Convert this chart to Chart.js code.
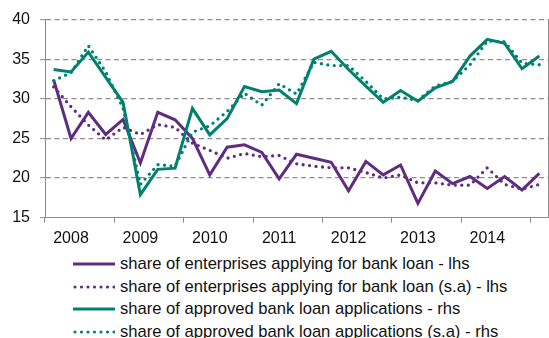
<!DOCTYPE html>
<html>
<head>
<meta charset="utf-8">
<script src="https://cdn.jsdelivr.net/npm/chart.js@4.4.1/dist/chart.umd.min.js"></script>
<style>
html, body { margin: 0; padding: 0; background: #fff; }
#wrap { position: relative; width: 549px; height: 338px; overflow: hidden; font-family: "Liberation Sans", Arial, sans-serif; }
#box { position: absolute; left: 0; top: 0; width: 549px; height: 250px; }
#legend { position: absolute; left: 73px; top: 253px; }
.row { height: 22.6px; display: flex; align-items: center; font-size: 16.6px; color: #111; white-space: nowrap; }
.row svg { width: 42px; height: 6px; margin-right: 5px; }
</style>
</head>
<body>
<div id="wrap">
  <div id="box"><canvas id="chart"></canvas></div>
  <div id="legend"></div>
</div>
<script>
var quarters = ['2008Q1','2008Q2','2008Q3','2008Q4','2009Q1','2009Q2','2009Q3','2009Q4',
  '2010Q1','2010Q2','2010Q3','2010Q4','2011Q1','2011Q2','2011Q3','2011Q4',
  '2012Q1','2012Q2','2012Q3','2012Q4','2013Q1','2013Q2','2013Q3','2013Q4',
  '2014Q1','2014Q2','2014Q3','2014Q4','2015Q1'];
var yearLabels = ['2008', '2009', '2010', '2011', '2012', '2013', '2014'];
var yTicks = [15, 20, 25, 30, 35, 40];

var applying = [32.4, 25.0, 28.3, 25.5, 27.4, 21.9, 28.3, 27.35, 25.0, 20.4, 23.9, 24.2, 23.25, 19.9, 23.0,
  22.5, 22.0, 18.4, 22.1, 20.4, 21.65, 16.8, 20.9, 19.3, 20.2, 18.7, 20.2, 18.5, 20.6];
var applyingSa = [31.5, 29.0, 26.7, 24.8, 26.4, 25.5, 26.75, 26.4, 24.4, 23.5, 22.5, 23.1, 22.7, 22.85, 21.8,
  21.5, 21.3, 21.3, 20.7, 20.0, 20.4, 19.4, 19.4, 19.1, 19.1, 21.3, 19.2, 18.6, 19.2];
var approved = [33.7, 33.4, 35.9, 32.7, 29.55, 17.9, 21.1, 21.25, 28.8, 25.45, 27.5, 31.55, 30.9, 31.1, 29.4,
  35.0, 36.0, 33.7, 31.6, 29.55, 31.05, 29.7, 31.4, 32.2, 35.4, 37.5, 37.0, 33.8, 35.4];
var approvedSa = [32.3, 33.3, 36.7, 33.4, 28.8, 19.2, 21.7, 21.5, 25.8, 26.6, 28.4, 30.7, 29.2, 31.9, 30.6,
  34.6, 34.2, 34.2, 32.2, 30.0, 30.2, 29.8, 31.6, 32.2, 34.3, 37.3, 37.2, 34.5, 34.3];

var purple = '#5E2D80';
var teal = '#00806F';
var dots = [0, 6.5];

new Chart(document.getElementById('chart'), {
  type: 'line',
  data: {
    labels: quarters,
    datasets: [
      { label: 'share of enterprises applying for bank loan - lhs', data: applying,
        borderColor: purple, borderWidth: 3, order: 4 },
      { label: 'share of enterprises applying for bank loan (s.a) - lhs', data: applyingSa,
        borderColor: purple, borderWidth: 3.3, borderDash: dots, borderCapStyle: 'round', order: 3 },
      { label: 'share of approved bank loan applications - rhs', data: approved,
        borderColor: teal, borderWidth: 3, order: 2 },
      { label: 'share of approved bank loan applications (s.a) - rhs', data: approvedSa,
        borderColor: teal, borderWidth: 3.3, borderDash: dots, borderCapStyle: 'round', order: 1 }
    ]
  },
  options: {
    responsive: true,
    maintainAspectRatio: false,
    animation: false,
    layout: { padding: { top: 10, left: 0, right: 0, bottom: 0 } },
    elements: { point: { radius: 0 }, line: { tension: 0, fill: false } },
    plugins: { legend: { display: false }, tooltip: { enabled: false } },
    scales: {
      x: {
        type: 'category',
        offset: true,
        afterFit: function(s) { s.height = 32.3; },
        border: { color: '#8c8c8c', width: 1 },
        grid: {
          offset: true,
          drawOnChartArea: false,
          tickLength: 5,
          tickColor: function(c) { return c.index % 4 === 0 ? '#8c8c8c' : 'rgba(0,0,0,0)'; }
        },
        ticks: {
          autoSkip: false,
          maxRotation: 0,
          padding: 6,
          color: '#111',
          font: { family: '"Liberation Sans", Arial, sans-serif', size: 16 },
          callback: function(v, i) { return i % 4 === 1 ? yearLabels[(i - 1) / 4] : ''; }
        }
      },
      y: {
        min: 15,
        max: 40,
        afterFit: function(s) { s.width = 45; },
        afterBuildTicks: function(s) { s.ticks = yTicks.map(function(v) { return { value: v }; }); },
        border: { color: '#8c8c8c', width: 1, dash: [5, 3.5] },
        grid: {
          color: function(c) { return c.tick && c.tick.value === 15 ? 'rgba(0,0,0,0)' : '#8f8f8f'; },
          lineWidth: 1.3,
          tickLength: 5,
          tickColor: '#8c8c8c',
          tickBorderDash: [],
          tickWidth: 1
        },
        ticks: {
          padding: 10,
          color: '#111',
          font: { family: '"Liberation Sans", Arial, sans-serif', size: 16 }
        }
      },
      y2: {
        position: 'right',
        min: 15,
        max: 40,
        afterFit: function(s) { s.width = 1; },
        border: { color: '#8c8c8c', width: 1 },
        grid: { drawOnChartArea: false, drawTicks: false },
        ticks: { display: false }
      }
    }
  }
});

var legendEl = document.getElementById('legend');
var chart = Chart.getChart('chart');
chart.data.datasets.forEach(function(ds) {
  var row = document.createElement('div');
  row.className = 'row';
  var dash = ds.borderDash ? ' stroke-dasharray="0 6.5" stroke-linecap="round"' : '';
  var x1 = ds.borderDash ? 2 : 0;
  row.innerHTML = '<svg viewBox="0 0 42 6"><line x1="' + x1 + '" y1="3" x2="42" y2="3" stroke="' + ds.borderColor +
    '" stroke-width="3.2"' + dash + '/></svg><span></span>';
  row.querySelector('span').textContent = ds.label;
  legendEl.appendChild(row);
});
</script>
</body>
</html>
